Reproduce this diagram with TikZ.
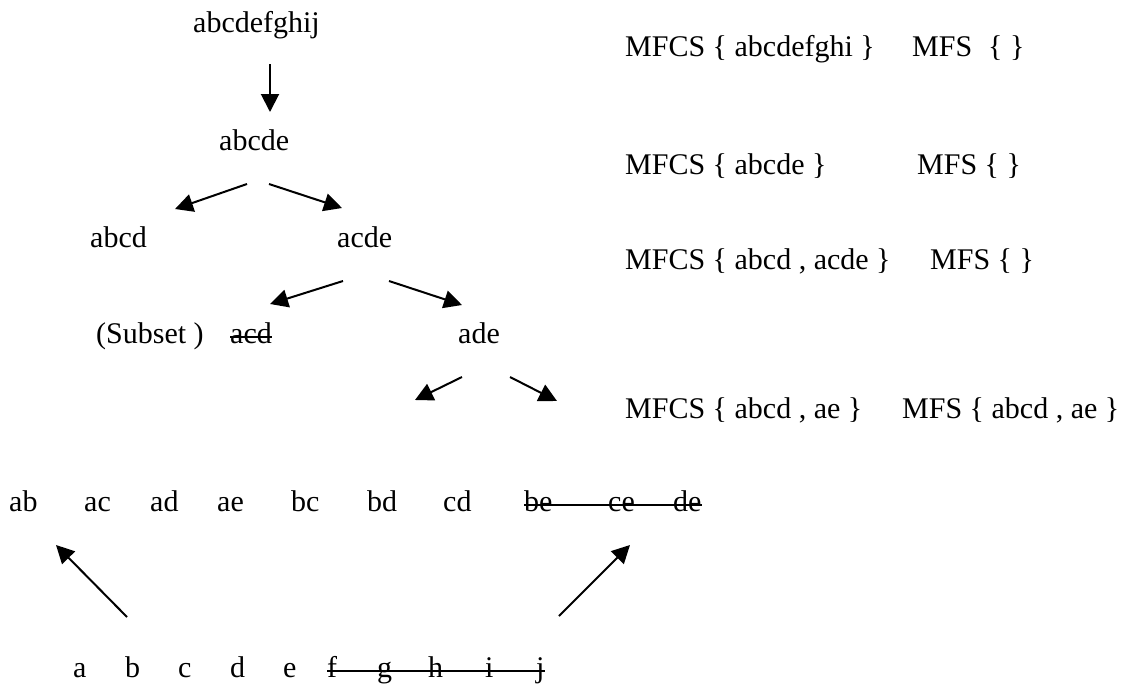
\documentclass[tikz,border=0pt]{standalone}
\usepackage{fontspec}
\setmainfont{Liberation Serif}
\usetikzlibrary{arrows.meta}
\begin{document}
\begin{tikzpicture}[x=1pt,y=-1pt,
  txt/.style={anchor=base west, inner sep=0pt, font=\fontsize{30}{36}\selectfont},
  arr/.style={line width=2pt, -{Triangle[length=18pt,width=18pt]}},
  strike/.style={line width=2pt}]
\useasboundingbox (0,0) rectangle (1125,686);

% tree
\node[txt] (top) at (193,32) {abcdefghij};
\node[txt] (abcde) at (219,150) {abcde};
\node[txt] (abcd) at (90,247) {abcd};
\node[txt] (acde) at (337,247) {acde};
\node[txt] (subset) at (96,343) {(Subset )};
\node[txt] (acd) at (230,343) {acd};
\node[txt] (ade) at (458,343) {ade};
\draw[strike] ([yshift=6.5pt]acd.base west) -- ([yshift=6.5pt]acd.base east);

% arrows of the tree
\coordinate (a1s) at (270,64);  \coordinate (a1e) at (270,112);
\coordinate (a2s) at (247,184); \coordinate (a2e) at (175,209);
\coordinate (a3s) at (269,184); \coordinate (a3e) at (342,208);
\coordinate (a4s) at (343,281); \coordinate (a4e) at (270,304);
\coordinate (a5s) at (389,281); \coordinate (a5e) at (462,305);
\coordinate (a6s) at (462,377); \coordinate (a6e) at (415,400);
\coordinate (a7s) at (510,377); \coordinate (a7e) at (557,401);
\coordinate (a8s) at (127,617); \coordinate (a8e) at (56,545);
\coordinate (a9s) at (559,616); \coordinate (a9e) at (630,545);
\foreach \i in {1,...,9} \draw[arr] (a\i s) -- (a\i e);

% pairs row
\foreach \t/\x in {ab/9,ac/84,ad/150,ae/217,bc/291,bd/367,cd/443,be/524,ce/608,de/673}
  \node[txt] (p\t) at (\x,511) {\t};
\draw[strike] ([yshift=6.5pt]pbe.base west) -- ([yshift=6.5pt]pde.base east);

% single items row
\foreach \t/\x in {a/73,b/125,c/178,d/230,e/283,f/327,g/377,h/428,i/485,j/536}
  \node[txt] (s\t) at (\x,677) {\t};
\draw[strike] ([yshift=6pt]sf.base west) -- ([yshift=6pt]sj.base east);

% MFCS / MFS column
\node[txt] (m1) at (625,56) {MFCS \{ abcdefghi \}};
\node[txt] (f1) at (912,56) {MFS\hspace{16pt}\{ \}};
\node[txt] (m2) at (625,174) {MFCS \{ abcde \}};
\node[txt] (f2) at (917,174) {MFS \{ \}};
\node[txt] (m3) at (625,269) {MFCS \{ abcd , acde \}};
\node[txt] (f3) at (930,269) {MFS \{ \}};
\node[txt] (m4) at (625,418) {MFCS \{ abcd , ae \}};
\node[txt] (f4) at (902,418) {MFS \{ abcd , ae \}};
\end{tikzpicture}
\end{document}
